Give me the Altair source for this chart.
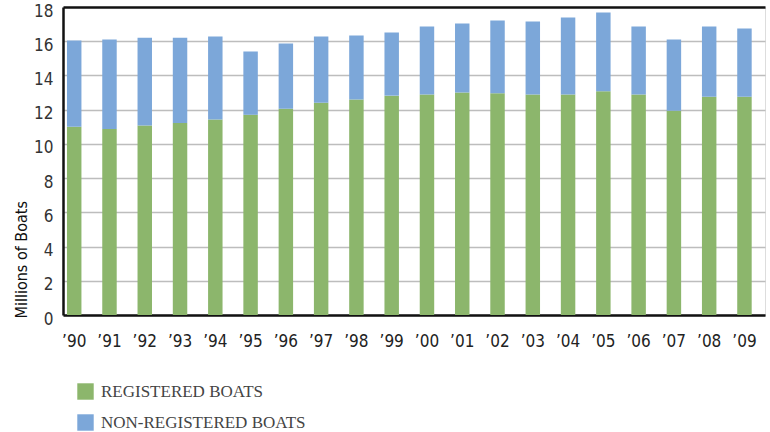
import altair as alt
import pandas as pd

# Recreational boats in the US, millions, 1990-2009
years = ["’90", "’91", "’92", "’93", "’94", "’95", "’96", "’97", "’98", "’99",
         "’00", "’01", "’02", "’03", "’04", "’05", "’06", "’07", "’08", "’09"]
registered = [11.00, 10.87, 11.07, 11.22, 11.43, 11.70, 12.06, 12.41, 12.60, 12.82,
              12.88, 13.00, 12.96, 12.88, 12.88, 13.07, 12.88, 11.94, 12.76, 12.76]
non_registered = [5.04, 5.23, 5.13, 4.98, 4.85, 3.70, 3.81, 3.87, 3.73, 3.69,
                  3.98, 4.04, 4.25, 4.27, 4.51, 4.61, 3.98, 4.16, 4.10, 3.98]

series = ["REGISTERED BOATS", "NON-REGISTERED BOATS"]
colors = ["#8cb66c", "#7ca7d9"]

rows = []
for i, y in enumerate(years):
    rows.append({"year": y, "series": series[0], "rank": 0, "boats": registered[i]})
    rows.append({"year": y, "series": series[1], "rank": 1, "boats": non_registered[i]})
df = pd.DataFrame(rows)

label_font = "Liberation Sans Narrow, DejaVu Sans Condensed, sans-serif"

bars = alt.Chart(df).mark_bar().encode(
    x=alt.X(
        "year:N",
        sort=years,
        title=None,
        scale=alt.Scale(paddingInner=0.59, paddingOuter=0.245, align=0.23),
        axis=alt.Axis(
            domainColor="#111111", domainWidth=2.5, ticks=False, labelAngle=0,
            labelFont=label_font, labelFontSize=17, labelColor="#222222",
            labelPadding=18,
        ),
    ),
    y=alt.Y(
        "sum(boats):Q",
        stack="zero",
        scale=alt.Scale(domain=[0, 18], nice=False),
        axis=alt.Axis(
            values=list(range(0, 19, 2)),
            title="Millions of Boats",
            titleFont=label_font, titleFontSize=16, titleFontWeight="normal",
            titleColor="#111111",
            titleX=-42, titleY=311, titleAngle=270, titleAlign="left",
            titleBaseline="middle",
            domainColor="#111111", domainWidth=2.5, ticks=False,
            labelFont=label_font, labelFontSize=17, labelColor="#333333",
            labelPadding=10, labelOffset=4,
            gridColor=alt.condition(alt.datum.value == 18,
                                    alt.value("#111111"), alt.value("#bdbdbd")),
            gridWidth=alt.condition(alt.datum.value == 18,
                                    alt.value(2.5), alt.value(1.5)),
        ),
    ),
    color=alt.Color(
        "series:N",
        scale=alt.Scale(domain=series, range=colors),
        legend=alt.Legend(
            title=None, orient="none", legendX=14, legendY=376,
            symbolType="square", symbolSize=270, symbolStrokeWidth=0,
            symbolOpacity=1, labelFont="Liberation Serif, DejaVu Serif, serif",
            labelFontSize=17, labelColor="#444444", labelOffset=7,
            labelLimit=0, rowPadding=13, padding=0,
        ),
    ),
    order=alt.Order("rank:Q", sort="ascending"),
)

chart = bars.properties(
    width=702,
    height=308,
    autosize=alt.AutoSizeParams(type="none"),
    padding={"left": 63, "top": 7, "right": 5, "bottom": 117},
).configure_view(stroke=None).configure(background="white")

chart.save("out.html", embed_options={"renderer": "svg", "actions": False})
